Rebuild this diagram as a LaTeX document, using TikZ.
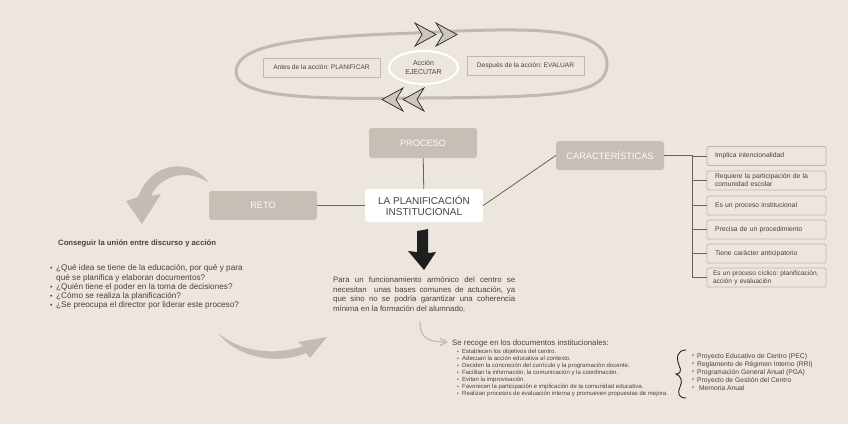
\documentclass[tikz,border=0pt]{standalone}
\usepackage{fontspec}
\usetikzlibrary{shapes.geometric}
\setmainfont{Liberation Sans}
\hyphenpenalty=10000
\exhyphenpenalty=10000
\frenchspacing
\definecolor{bg}{RGB}{237,230,223}
\definecolor{boxgray}{RGB}{199,190,181}
\definecolor{loopgray}{RGB}{193,185,176}
\definecolor{linegray}{RGB}{105,98,92}
\definecolor{txt}{RGB}{72,67,63}
\definecolor{outl}{RGB}{192,183,174}
\definecolor{arrgray}{RGB}{196,187,178}
\definecolor{chevfill}{RGB}{205,198,190}
\newcommand{\fs}[2]{\fontsize{#1}{#2}\selectfont}
\newcommand{\bul}{\makebox[6pt][l]{\raisebox{0.05ex}{\scalebox{0.85}{•}}}}
\newcommand{\sbul}{\makebox[5pt][l]{\raisebox{0.05ex}{\scalebox{0.85}{•}}}}
\begin{document}
\begin{tikzpicture}[x=1pt,y=-1pt,
  graybox/.style={fill=boxgray, rounded corners=3pt, inner sep=0pt, text=white!96!boxgray, font=\fs{9.2}{11}},
  topbox/.style={draw=outl, line width=0.9pt, fill=bg, inner sep=0pt, minimum width=117pt, minimum height=19pt, text=txt, font=\fs{6.6}{8}},
  charbox/.style={draw=outl, line width=0.9pt, rounded corners=1.5pt, fill=bg, inner xsep=8pt, inner ysep=0pt, text width=103pt, minimum height=19pt, align=left, text=txt, font=\fs{6.8}{8}},
  conn/.style={draw=linegray, line width=0.8pt},
  chev/.style={fill=chevfill, draw=black!85, line width=0.7pt, line join=miter}
]
\useasboundingbox[fill=bg] (0,0) rectangle (848,424);

% ---- top cycle ----
\draw[loopgray, line width=3pt, line cap=round]
  (415,33) -- (458,31) .. controls (540,28) and (607,29) .. (607,64)
  .. controls (607,95) and (560,97) .. (423,98)
  .. controls (330,99) and (236,100) .. (236,72)
  .. controls (236,44) and (300,37) .. (415,33);
\foreach \x in {415,436}{
  \path[chev] (\x,23) -- (\x+21,34.5) -- (\x,46) -- (\x+7,34.5) -- cycle;}
\foreach \x in {382,403}{
  \path[chev] (\x+21,88) -- (\x,99.5) -- (\x+21,111) -- (\x+14,99.5) -- cycle;}

\node[topbox] (antes) at (321.5,67.5) {Antes de la acción: PLANIFICAR};
\node[topbox] (despues) at (525.5,65.5) {Después de la acción: EVALUAR};
\node[draw=white, line width=2pt, ellipse, fill=bg, minimum width=69pt, minimum height=33pt, inner sep=0pt, align=center, text=txt, font=\fs{7}{9}] (accion) at (423.5,67.5) {Acción\\EJECUTAR};

% ---- central nodes ----
\node[graybox, minimum width=108pt, minimum height=30pt] (proceso) at (423,143) {PROCESO};
\node[fill=white, rounded corners=3pt, inner sep=0pt, minimum width=118pt, minimum height=33pt, align=center, text=txt, font=\fs{10}{11.5}] (planif) at (424,205.5) {LA PLANIFICACIÓN\\INSTITUCIONAL};
\node[graybox, minimum width=108pt, minimum height=29pt] (reto) at (263,205.5) {RETO};
\node[graybox, minimum width=108pt, minimum height=29pt, font=\fs{9.3}{11}] (caract) at (610,155.5) {CARACTERÍSTICAS};

\draw[conn] (proceso) -- (planif);
\draw[conn] (reto) -- (planif);
\draw[conn] (planif.east) -- (caract.west);

% ---- characteristics ----
\node[charbox] (c1) at (766.5,156) {Implica intencionalidad};
\node[charbox] (c2) at (766.5,180.5) {Requiere la participación de la\\comunidad escolar};
\node[charbox] (c3) at (766.5,205.5) {Es un proceso institucional};
\node[charbox] (c4) at (766.5,229.5) {Precisa de un procedimiento};
\node[charbox] (c5) at (766.5,253.5) {Tiene carácter anticipatorio};
\node[charbox, inner xsep=6pt, text width=107pt, font=\fs{6.6}{8}] (c6) at (766.5,277.5) {\mbox{Es un proceso cíclico: planificación,}\\acción y evaluación};
\coordinate (tj) at (692,155.5);
\draw[conn] (caract.east) -- (tj) |- (c6.west);
\foreach \c in {c1,c2,c3,c4,c5}{\draw[conn] (tj |- \c.west) -- (\c.west);}

% ---- left side ----
\path[fill=arrgray] (209,183) .. controls (192,158) and (152,160) .. (138,197)
  -- (126,201) -- (142,224) -- (161,194) -- (151,196)
  .. controls (160,175) and (188,168) .. (209,183) -- cycle;
\node[anchor=west, text=txt, font=\bfseries\fs{7.7}{9}, inner sep=0pt] (consig) at (58,243) {Conseguir la unión entre discurso y acción};
\node[anchor=north west, align=left, text=txt, font=\fs{8.2}{9.3}, inner sep=0pt] (preg) at (50,264.5) {%
\bul¿Qué idea se tiene de la educación, por qué y para\\
\hspace*{6pt}qué se planifica y elaboran documentos?\\
\bul¿Quién tiene el poder en la toma de decisiones?\\
\bul¿Cómo se realiza la planificación?\\
\bul¿Se preocupa el director por liderar este proceso?};
\path[fill=arrgray] (218,333) .. controls (235,356) and (275,366) .. (306,353)
  -- (310,358) -- (327,337) -- (298,342) -- (303,346)
  .. controls (275,356) and (240,352) .. (218,333) -- cycle;

% ---- centre text ----
\path[fill=black!88] (417,231) -- (423,230) -- (428,229) -- (428,253) -- (436,252)
  -- (424,270) -- (408,251) -- (417,252) -- cycle;
\node[anchor=north west, text width=182pt, align=justify, text=txt, font=\fs{7.8}{9.4}, inner sep=0pt] (parr) at (333,277) {%
Para un funcionamiento armónico del centro se\linebreak
necesitan\ \ unas bases comunes de actuación, ya\linebreak
que sino no se podría garantizar una coherencia\linebreak
mínima en la formación del alumnado.};
\draw[arrgray, line width=1.2pt, line cap=round] (420,322) .. controls (420,338) and (428,342) .. (446,342);
\draw[arrgray, line width=1.2pt, line cap=round, line join=round] (440,338.5) -- (447,342) -- (440,345.5);
\node[anchor=west, text=txt, font=\fs{7.8}{9}, inner sep=0pt] (recoge) at (452,343) {Se recoge en los documentos institucionales:};
\node[anchor=north west, align=left, text=txt, font=\fs{6}{7}, inner sep=0pt] (lista) at (457,349) {%
\sbul Establecen los objetivos del centro.\\
\sbul Adecuan la acción educativa al contexto.\\
\sbul Deciden la concreción del currículo y la programación docente.\\
\sbul Facilitan la información, la comunicación y la coordinación.\\
\sbul Evitan la improvisación.\\
\sbul Favorecen la participación e implicación de la comunidad educativa.\\
\sbul Realizan procesos de evaluación interna y promueven propuestas de mejora.};

% ---- brace and documents ----
\draw[black!85, line width=0.9pt, line cap=round]
  (686,350) .. controls (677,350) and (676,358) .. (679,365)
  .. controls (682,371) and (680,374) .. (676,374)
  .. controls (681,376) and (683,381) .. (680,387)
  .. controls (677,394) and (679,398) .. (686,398);
\node[anchor=north west, align=left, text=txt, font=\fs{6.75}{8}, inner sep=0pt] (docs) at (692,353) {%
\sbul Proyecto Educativo de Centro (PEC)\\
\sbul Reglamento de Régimen Interno (RRI)\\
\sbul Programación General Anual (PGA)\\
\sbul Proyecto de Gestión del Centro\\
\sbul\ Memoria Anual};
\end{tikzpicture}
\end{document}
